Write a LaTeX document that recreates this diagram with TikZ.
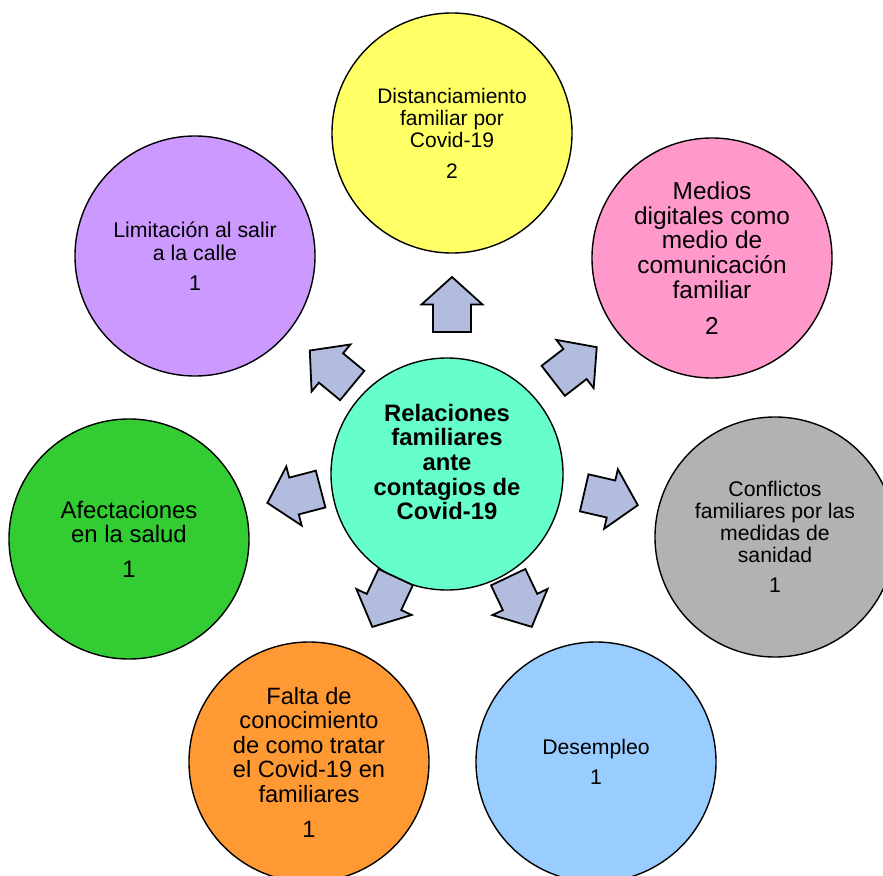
\documentclass[tikz,border=0pt]{standalone}
\usepackage{fontspec}
\setmainfont{Liberation Sans}
\definecolor{cyellow}{HTML}{FFFF66}
\definecolor{cpink}{HTML}{FF99CC}
\definecolor{cpurple}{HTML}{CC99FF}
\definecolor{cteal}{HTML}{66FFCC}
\definecolor{cgreen}{HTML}{33CC33}
\definecolor{cgray}{HTML}{B2B2B2}
\definecolor{corange}{HTML}{FF9933}
\definecolor{cblue}{HTML}{99CCFF}
\definecolor{arrowblue}{RGB}{177,188,222}
\begin{document}
\begin{tikzpicture}[x=1pt,y=-1pt,
  bubble/.style={circle, draw=black, line width=1.4pt, minimum size=240pt,
    inner sep=0pt, align=center, text=black},
  hubstyle/.style={circle, draw=black, line width=1.4pt, minimum size=232pt,
    inner sep=0pt, fill=cteal},
  fs/.style 2 args={font={\fontsize{#1}{#2}\selectfont}},
  arrowshape/.style={draw=black, line width=1.8pt, fill=arrowblue, line join=miter},
  blockarrow/.pic={\path[arrowshape] (-27.5,-19) -- (0,-19) -- (0,-30.5)
    -- (27.5,0) -- (0,30.5) -- (0,19) -- (-27.5,19) -- cycle;}
]
\clip (0,0) rectangle (883,875);

% central topic
\node[hubstyle] (hub) at (447,474) {};
\node[align=center, font={\fontsize{23.8}{24.7}\selectfont\bfseries}]
  (hubtext) at ([yshift=12pt]hub.center)
  {Relaciones\\familiares\\ante\\contagios de\\Covid-19};

% surrounding topics
\node[bubble, fill=cyellow, fs={21}{22}] (dist) at (452,133)
  {Distanciamiento\\familiar por\\Covid-19\\[9pt]2};
\node[bubble, fill=cpurple, fs={21.3}{23}] (lim) at (195,256)
  {Limitación al salir\\a la calle\\[7pt]1};
\node[bubble, fill=cpink, fs={24.4}{24.8}] (med) at (712,258)
  {Medios\\digitales como\\medio de\\comunicación\\familiar\\[11pt]2};
\node[bubble, fill=cgreen, fs={23.9}{24}] (afe) at (129,539)
  {Afectaciones\\en la salud\\[11pt]1};
\node[bubble, fill=cgray, fs={21.2}{22}] (conf) at (775,537)
  {Conflictos\\familiares por las\\medidas de\\sanidad\\[8pt]1};
\node[bubble, fill=corange, fs={23.6}{24.6}] (falta) at (309,762)
  {Falta de\\conocimiento\\de como tratar\\el Covid-19 en\\familiares\\[10pt]1};
\node[bubble, fill=cblue, fs={21.2}{22}] (des) at (596,762)
  {Desempleo\\[8pt]1};

% block arrows pointing outward
\pic[rotate=90] at (452,304.5) {blockarrow};
\pic[rotate=37.7] at (575,364) {blockarrow};
\pic[rotate=140.5] at (331,368) {blockarrow};
\pic[rotate=194.6] at (294,496) {blockarrow};
\pic[rotate=-13] at (611,499) {blockarrow};
\pic[rotate=244.9] at (384,602) {blockarrow};
\pic[rotate=-64.6] at (520,602) {blockarrow};
\end{tikzpicture}
\end{document}
